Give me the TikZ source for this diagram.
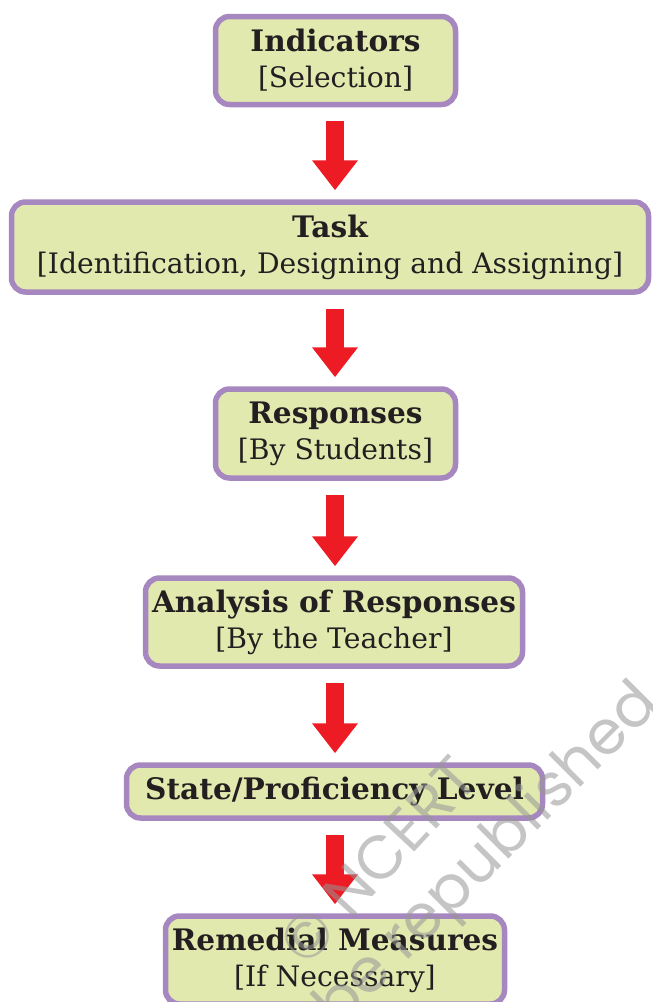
\documentclass[tikz,border=0pt]{standalone}
\usepackage{fontspec}
\setmainfont{DejaVu Serif}
\newfontfamily\wmfont{Poppins}
\usetikzlibrary{arrows.meta,calc}
\definecolor{boxfill}{RGB}{225,233,175}
\definecolor{boxline}{RGB}{167,135,191}
\definecolor{arrred}{RGB}{237,28,36}
\definecolor{txt}{RGB}{35,31,32}
\definecolor{wmgray}{RGB}{150,150,150}
\newcommand{\hdline}[1]{{\fontsize{29.6}{36}\selectfont\bfseries #1}}
\begin{document}
\begin{tikzpicture}[x=1pt,y=1pt,
  box/.style={draw=boxline, fill=boxfill, line width=5.5pt, rounded corners=14pt,
    align=center, text=txt, inner sep=0pt, font=\fontsize{28.2}{36}\selectfont},
  flow/.style={draw=arrred, line width=18pt, -{Triangle[width=44pt,length=30pt,fill=arrred]}},
  wmark/.style={text=wmgray, opacity=0.55, font=\wmfont\fontsize{61}{66}\selectfont}
]
\useasboundingbox (0,0) rectangle (653,-1002);
\clip (0,0) rectangle (653,-1002);
\coordinate (ax) at (335,0);
\node[box, minimum width=240, minimum height=88] (b1) at (335.5,-60.5) {\hdline{Indicators}\\ {[}Selection]};
\node[box, minimum width=637, minimum height=90] (b2) at (330,-247) {\hdline{Task}\\ {[}Identification, Designing and Assigning]};
\node[box, minimum width=240, minimum height=89] (b3) at (335.5,-433.5) {\hdline{Responses}\\ {[}By Students]};
\node[box, minimum width=377, minimum height=88] (b4) at (334,-622) {\hdline{Analysis of Responses}\\ {[}By the Teacher]};
\node[box, minimum width=416, minimum height=53] (b5) at (334.5,-791.5) {\hdline{State/Proficiency Level}};
\node[box, minimum width=339, minimum height=88] (b6) at (335,-960) {\hdline{Remedial Measures}\\ {[}If Necessary]};
\foreach \a/\b in {b1/b2,b2/b3,b3/b4,b4/b5,b5/b6}{
  \draw[flow] ($(ax |- \a.south)+(0,-14)$) -- ($(ax |- \b.north)+(0,9)$);
}
\node[wmark, rotate=47] (wm1) at (378,-860) {© NCERT};
\node[wmark, rotate=45, anchor=base east] (wm2) at (664,-704) {not to be republished};
\end{tikzpicture}
\end{document}
